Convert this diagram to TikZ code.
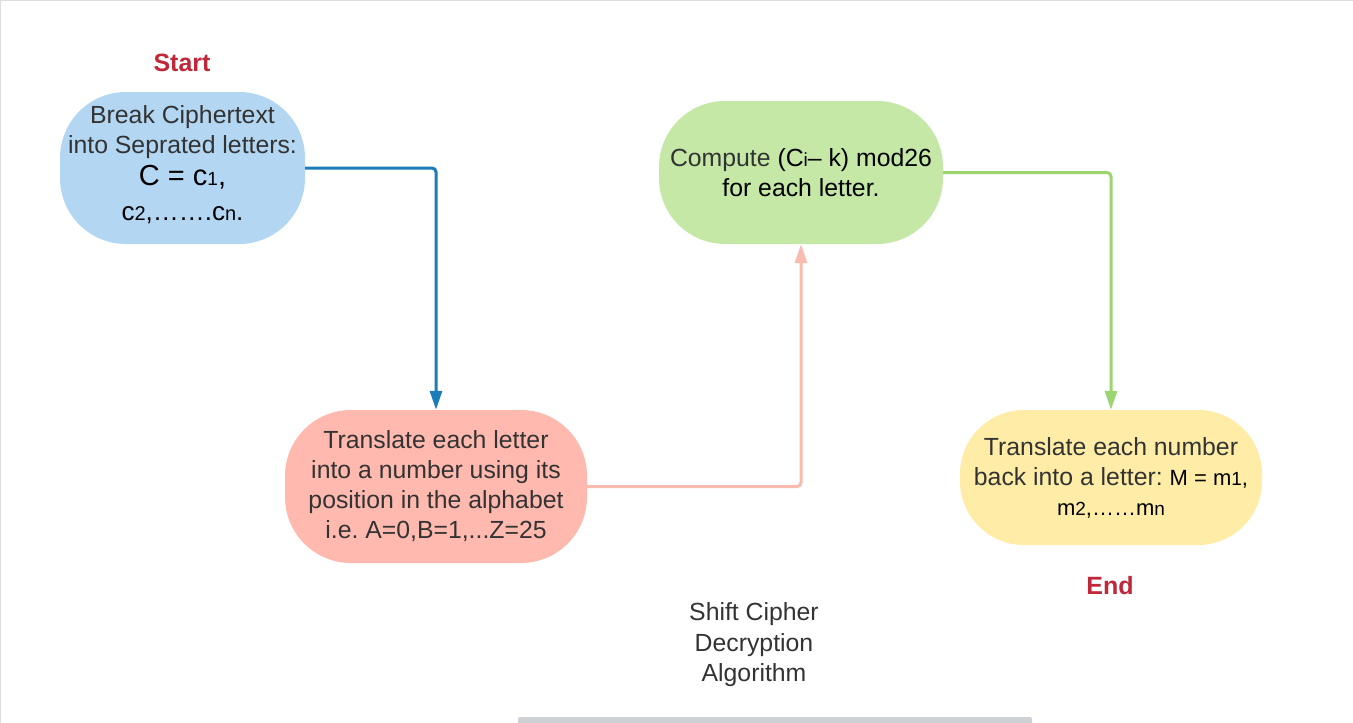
\documentclass[tikz,border=0pt]{standalone}
\usepackage{fontspec}
\setmainfont{Liberation Sans}
\usetikzlibrary{arrows.meta}
\definecolor{txtgray}{HTML}{333333}
\definecolor{bluefill}{HTML}{B3D6F2}
\definecolor{greenfill}{HTML}{C5E8A6}
\definecolor{pinkfill}{HTML}{FFB9AE}
\definecolor{yellowfill}{HTML}{FFECA6}
\definecolor{bluearrow}{HTML}{1A7DBA}
\definecolor{pinkarrow}{HTML}{F9BAAF}
\definecolor{greenarrow}{HTML}{9AD56F}
\definecolor{labelred}{HTML}{C0283A}
\definecolor{framegray}{HTML}{DDDDDD}
\definecolor{bargray}{HTML}{CDD0D4}
\newcommand{\sm}[1]{{\fontsize{19pt}{22pt}\selectfont #1}}
\newcommand{\smb}[1]{{\fontsize{20pt}{22pt}\selectfont #1}}
\frenchspacing
\begin{document}
\begin{tikzpicture}[x=1pt,y=-1pt,
  procbox/.style={rectangle, draw=none, rounded corners=66pt, align=center,
    text=txtgray, font=\fontsize{24.8pt}{30pt}\selectfont\frenchspacing, inner sep=0pt},
  conn/.style={line width=3pt, rounded corners=4pt,
    -{Triangle[width=12pt,length=19pt]}},
  termlabel/.style={text=labelred, font=\bfseries\fontsize{25pt}{28pt}\selectfont}
]
\useasboundingbox (0,0) rectangle (1353,723);
\fill[white] (0,0) rectangle (1353,723);
\draw[framegray, line width=1.2pt] (0.6,723) -- (0.6,0.6) -- (1353,0.6);
\fill[bargray, rounded corners=2pt] (518,717) rectangle (1032,726);

\node[procbox, fill=bluefill, minimum width=245pt, minimum height=152pt] (blue) at (182.5,168) {};
\node[align=center, text=txtgray, font=\fontsize{24.8pt}{30pt}\selectfont, inner sep=0pt] (bluetext) at (182.5,164.5)
  {Break Ciphertext\\into Seprated letters:\\[2pt]
   {\color{black}\fontsize{29pt}{32pt}\selectfont C = c\sm{1},}\\[5pt]
   {\color{black}\fontsize{26pt}{30pt}\selectfont c\smb{2},…….c\smb{n}.}};
\node[procbox, fill=greenfill, minimum width=284pt, minimum height=143pt] (green) at (801,172.5)
  {Compute {\color{black}(C\sm{i}– k) mod26}\\{\color{black}for each letter.}};
\node[procbox, fill=pinkfill, minimum width=302pt, minimum height=153pt] (pink) at (436,486.5)
  {Translate each letter\\into a number using its\\position in the alphabet\\i.e. A=0,B=1,...Z=25};
\node[procbox, fill=yellowfill, minimum width=302pt, minimum height=135pt, rounded corners=64pt] (yellow) at (1111,477.5)
  {Translate each number\\back into a letter: {\color{black}\fontsize{22pt}{30pt}\selectfont M = m\sm{1},}\\
   {\color{black}\fontsize{22pt}{30pt}\selectfont m\sm{2},……m\sm{n}}};

\node[termlabel] (start) at (182,63) {Start};
\node[termlabel] (end) at (1110,586) {End};
\node[align=center, text=txtgray, font=\fontsize{24.8pt}{30.5pt}\selectfont] (title) at (754,645)
  {Shift Cipher\\Decryption\\Algorithm};

\draw[conn, bluearrow] (blue.east) -| (pink.north);
\draw[conn, pinkarrow] (pink.east) -| (green.south);
\draw[conn, greenarrow] (green.east) -| (yellow.north);
\end{tikzpicture}
\end{document}
